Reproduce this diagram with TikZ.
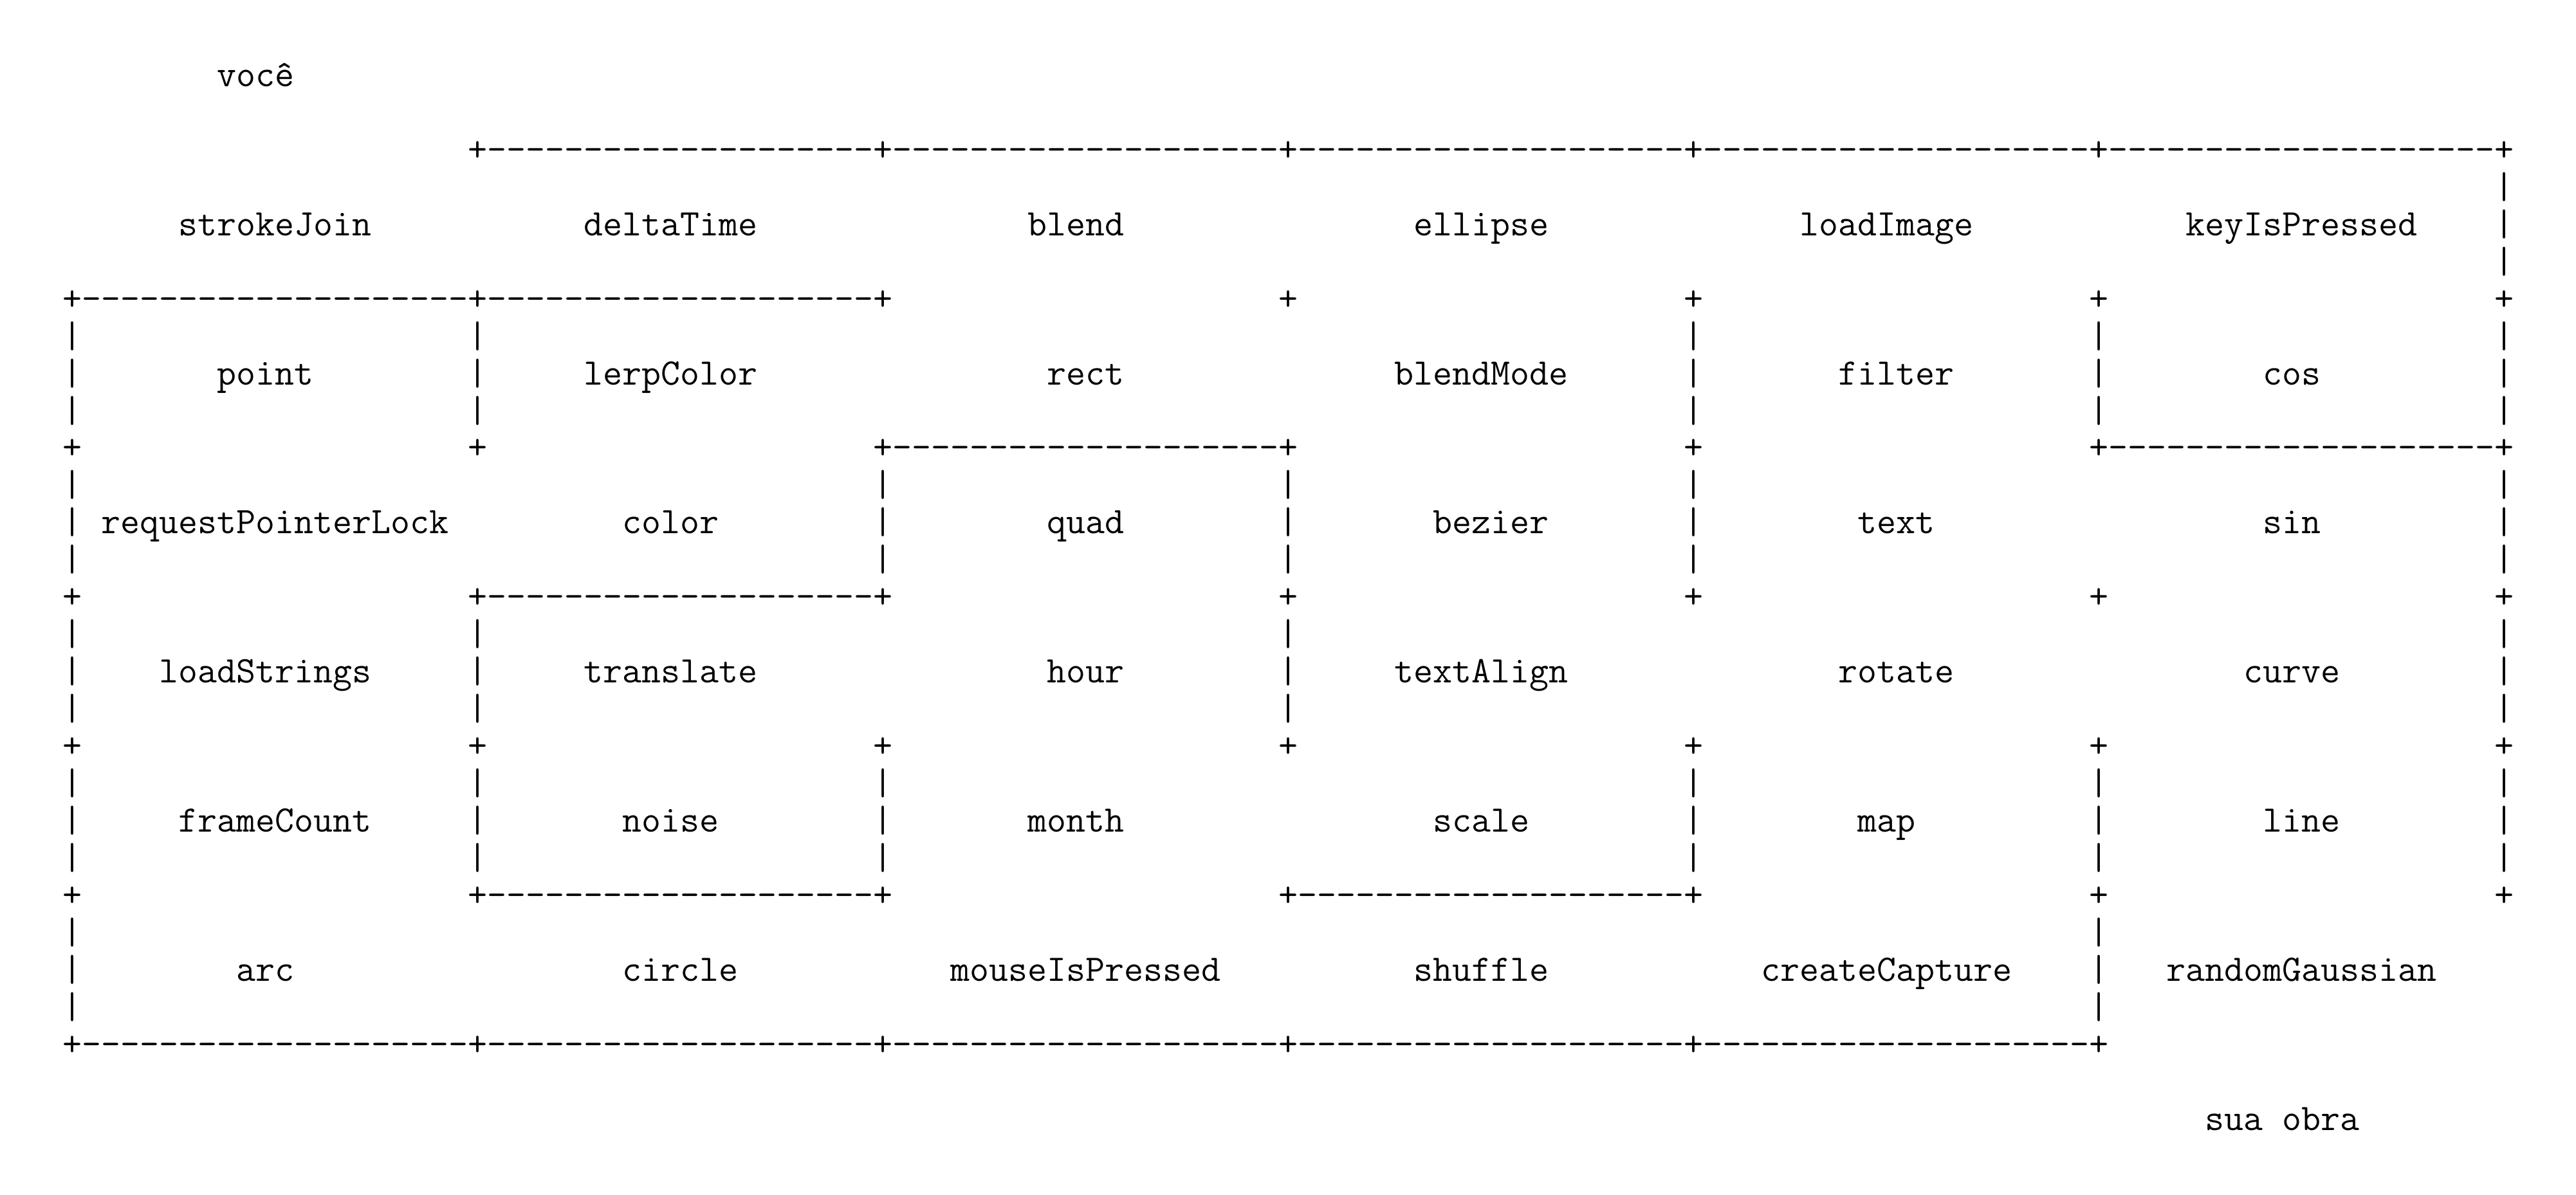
\documentclass[tikz,border=0pt]{standalone}
\newsavebox\glyphbox
\AtBeginDocument{%
  \sbox\glyphbox{\fontsize{20pt}{20pt}\ttfamily M}%
  \pgfmathsetmacro\fsz{7.5*20/\the\wd\glyphbox}%
  \xdef\fsz{\fsz}%
}
\begin{document}
\begin{tikzpicture}
% monospaced cell: 7.5pt wide, 14.49pt line pitch
\tikzset{
  glyph/.style={font=\fontsize{\fsz pt}{\fsz pt}\ttfamily, inner sep=0pt, outer sep=0pt, anchor=base, text=black},
  fname/.style={glyph}
}
\useasboundingbox (0,0) rectangle (1001pt,-464.5pt);
\begin{scope}[shift={(24.25pt,-33.6pt)}, x=7.5pt, y=-14.49pt]

% entry and exit captions
\node[fname] (entrada) at (10,0) {você};
\node[fname] (saida) at (115,28) {sua obra};

% horizontal borders: corner pluses and dash runs
\foreach \L/\pl/\sg in {
  2/{21,42,63,84,105,126}/{21,42,63,84,105},
  6/{0,21,42,63,84,105,126}/{0,21},
  10/{0,21,42,63,84,105,126}/{42,105},
  14/{0,21,42,63,84,105,126}/{21},
  22/{0,21,42,63,84,105,126}/{21,63},
  26/{0,21,42,63,84,105}/{0,21,42,63,84}} {
  \foreach \c in \pl { \node[glyph] at ({\c+0.5},\L) {+}; }
  \foreach \c in \sg {
    \foreach \k in {1,...,20} { \node[glyph] at ({\c+\k+0.5},\L) {-}; }
  }
}
\foreach \c in {0,21,42,63,84,105,126} { \node[glyph] at ({\c+0.5},18) {+}; }

% vertical walls of each row of cells
\foreach \r/\cols in {
  0/{126},
  1/{0,21,84,105,126},
  2/{0,42,63,84,126},
  3/{0,21,63,126},
  4/{0,21,42,84,105,126},
  5/{0,105}} {
  \foreach \c in \cols {
    \foreach \d in {3,4,5} { \node[glyph] at ({\c+0.5},{4*\r+\d}) {|}; }
  }
}

% cell names
\foreach \nm/\cx/\L in {
  strokeJoin/11/4, deltaTime/31.5/4, blend/52.5/4, ellipse/73.5/4, loadImage/94.5/4, keyIsPressed/116/4,
  point/10.5/8, lerpColor/31.5/8, rect/53/8, blendMode/73.5/8, filter/95/8, cos/115.5/8,
  requestPointerLock/11/12, color/31.5/12, quad/53/12, bezier/74/12, text/95/12, sin/115.5/12,
  loadStrings/10.5/16, translate/31.5/16, hour/53/16, textAlign/73.5/16, rotate/95/16, curve/115.5/16,
  frameCount/11/20, noise/31.5/20, month/52.5/20, scale/73.5/20, map/94.5/20, line/116/20,
  arc/10.5/24, circle/32/24, mouseIsPressed/53/24, shuffle/73.5/24, createCapture/94.5/24, randomGaussian/116/24} {
  \node[fname] (fn-\nm) at (\cx,\L) {\nm};
}
\end{scope}
\end{tikzpicture}
\end{document}
